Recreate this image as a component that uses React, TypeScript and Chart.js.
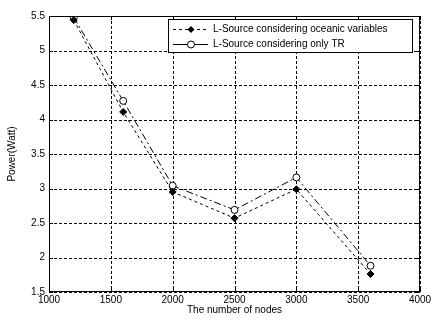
import React, { useEffect, useRef } from "react";
import { Chart, registerables } from "chart.js";

Chart.register(...registerables);

const nodes = [1200, 1600, 2000, 2500, 3000, 3600];
const oceanic = [5.44, 4.11, 2.95, 2.57, 2.99, 1.76];
const onlyTR = [5.48, 4.27, 3.04, 2.69, 3.16, 1.88];
const seriesNames = ["L-Source considering oceanic variables", "L-Source considering only TR"];
const xTitle = "The number of nodes";
const yTitle = "Power(Watt)";

const FONT = "Arial, 'Liberation Sans', sans-serif";

const boxPlugin = {
  id: "matlabBox",
  beforeDatasetsDraw(chart: any) {
    const { ctx, chartArea: a, scales } = chart;
    ctx.save();
    ctx.strokeStyle = "#000";
    ctx.lineWidth = 1;
    ctx.setLineDash([3, 2]);
    scales.x.ticks.forEach((t: any) => {
      const px = Math.round(scales.x.getPixelForValue(t.value)) + 0.5;
      ctx.beginPath();
      ctx.moveTo(px, a.top);
      ctx.lineTo(px, a.bottom);
      ctx.stroke();
    });
    scales.y.ticks.forEach((t: any) => {
      const py = Math.round(scales.y.getPixelForValue(t.value)) + 0.5;
      ctx.beginPath();
      ctx.moveTo(a.left, py);
      ctx.lineTo(a.right, py);
      ctx.stroke();
    });
    ctx.restore();
  },
  afterDraw(chart: any) {
    const { ctx, chartArea: a, scales } = chart;
    ctx.save();
    ctx.strokeStyle = "#000";
    ctx.lineWidth = 1;
    ctx.setLineDash([]);
    ctx.strokeRect(a.left + 0.5, a.top + 0.5, a.right - a.left - 1, a.bottom - a.top - 1);
    const tl = 4;
    scales.x.ticks.forEach((t: any) => {
      const px = Math.round(scales.x.getPixelForValue(t.value)) + 0.5;
      ctx.beginPath();
      ctx.moveTo(px, a.bottom);
      ctx.lineTo(px, a.bottom - tl);
      ctx.moveTo(px, a.top);
      ctx.lineTo(px, a.top + tl);
      ctx.stroke();
    });
    scales.y.ticks.forEach((t: any) => {
      const py = Math.round(scales.y.getPixelForValue(t.value)) + 0.5;
      ctx.beginPath();
      ctx.moveTo(a.left, py);
      ctx.lineTo(a.left + tl, py);
      ctx.moveTo(a.right, py);
      ctx.lineTo(a.right - tl, py);
      ctx.stroke();
    });
    // legend
    const lx = 168, ly = 19, lw = 244, lh = 33;
    ctx.fillStyle = "#fff";
    ctx.fillRect(lx, ly, lw, lh);
    ctx.strokeRect(lx + 0.5, ly + 0.5, lw, lh);
    const rows = [
      { y: ly + 10.5, dash: [3, 3], ds: chart.data.datasets[0] },
      { y: ly + 25.5, dash: [], ds: chart.data.datasets[1] },
    ];
    ctx.font = "10px " + FONT;
    ctx.textBaseline = "middle";
    rows.forEach((r, i) => {
      ctx.setLineDash(r.dash);
      ctx.beginPath();
      ctx.moveTo(lx + 5, r.y);
      ctx.lineTo(lx + 40, r.y);
      ctx.stroke();
      ctx.setLineDash([]);
      const mx = lx + 23;
      ctx.beginPath();
      if (i === 0) {
        ctx.fillStyle = "#000";
        ctx.moveTo(mx, r.y - 3.5);
        ctx.lineTo(mx + 3.5, r.y);
        ctx.lineTo(mx, r.y + 3.5);
        ctx.lineTo(mx - 3.5, r.y);
        ctx.closePath();
        ctx.fill();
      } else {
        ctx.fillStyle = "#fff";
        ctx.arc(mx, r.y, 3.5, 0, Math.PI * 2);
        ctx.fill();
        ctx.stroke();
      }
      ctx.fillStyle = "#000";
      ctx.fillText(r.ds.label, lx + 45, r.y);
    });
    ctx.restore();
  },
};

export default function App() {
  const ref = useRef<HTMLCanvasElement>(null);
  useEffect(() => {
    document.body.style.margin = "0";
    const chart = new Chart(ref.current!, {
      type: "line",
      data: {
        datasets: [
          {
            label: seriesNames[0],
            data: nodes.map((x, i) => ({ x, y: oceanic[i] })),
            borderColor: "#000",
            borderWidth: 1,
            borderDash: [3, 3],
            pointStyle: "rectRot",
            pointRadius: 3.5,
            pointBackgroundColor: "#000",
            pointBorderColor: "#000",
            fill: false,
            tension: 0,
          },
          {
            label: seriesNames[1],
            data: nodes.map((x, i) => ({ x, y: onlyTR[i] })),
            borderColor: "#000",
            borderWidth: 1,
            borderDash: [7, 3, 2, 3],
            pointStyle: "circle",
            pointRadius: 3.5,
            pointBackgroundColor: "#fff",
            pointBorderColor: "#000",
            fill: false,
            tension: 0,
          },
        ],
      },
      options: {
        animation: false,
        responsive: false,
        devicePixelRatio: 1,
        layout: { padding: { top: 16, right: 17, left: 0, bottom: 0 } },
        plugins: { legend: { display: false }, tooltip: { enabled: false } },
        scales: {
          x: {
            type: "linear",
            min: 1000,
            max: 4000,
            afterFit: (s: any) => { s.height = 28; },
            ticks: {
              stepSize: 500,
              color: "#000",
              padding: 2,
              maxRotation: 0,
              font: { family: FONT, size: 10 },
              callback: (v: any) => String(v),
            },
            grid: { display: false, drawTicks: false },
            border: { display: false },
            title: { display: true, text: xTitle, color: "#000", font: { family: FONT, size: 10 }, padding: { top: 0, bottom: 4 } },
          },
          y: {
            min: 1.5,
            max: 5.5,
            afterFit: (s: any) => { s.width = 49; },
            ticks: {
              stepSize: 0.5,
              color: "#000",
              padding: 4,
              font: { family: FONT, size: 10 },
              callback: (v: any) => String(v),
            },
            grid: { display: false, drawTicks: false },
            border: { display: false },
            title: { display: true, text: yTitle, color: "#000", font: { family: FONT, size: 10 }, padding: { top: 6, bottom: 0 } },
          },
        },
      },
      plugins: [boxPlugin],
    });
    return () => chart.destroy();
  }, []);
  return <canvas ref={ref} width={437} height={320} style={{ display: "block" }} />;
}
